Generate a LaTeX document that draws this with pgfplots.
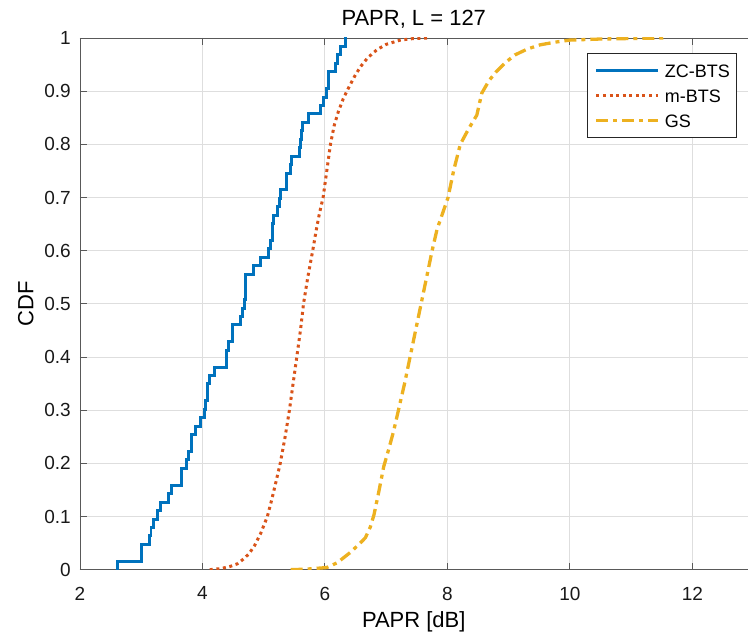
\documentclass[border=0pt]{standalone}
\usepackage{fontspec}
\setmainfont{Liberation Sans}
\usepackage{pgfplots}
\pgfplotsset{compat=1.18}
\definecolor{mblue}{rgb}{0,0.447,0.741}
\definecolor{morange}{rgb}{0.851,0.325,0.098}
\definecolor{myellow}{rgb}{0.929,0.694,0.125}
\begin{document}
\begin{tikzpicture}
\begin{axis}[
  scale only axis, width=668pt, height=532pt,
  at={(0,0)}, anchor=south west,
  xmin=2, xmax=12.9, ymin=0, ymax=1,
  axis x line*=box, axis y line*=left,
  axis line style={black!65, line width=0.9pt},
  xtick={2,4,6,8,10,12},
  ytick={0,0.1,0.2,0.3,0.4,0.5,0.6,0.7,0.8,0.9,1},
  yticklabels={0,0.1,0.2,0.3,0.4,0.5,0.6,0.7,0.8,0.9,1},
  tick align=inside, major tick length=7pt,
  tick style={black!65, line width=0.9pt},
  grid=major, grid style={black!13, line width=0.9pt},
  /pgf/number format/assume math mode=true,
  ticklabel style={font=\fontsize{19}{19}\selectfont, text=black!90},
  xticklabel style={anchor=north, inner sep=0pt, yshift=-17pt},
  yticklabel style={anchor=east, inner sep=0pt, xshift=-9pt},
  title={PAPR, L = 127},
  title style={at={(axis description cs:0.5,1.0113)}, anchor=base, inner sep=0pt, font=\fontsize{22}{22}\selectfont},
  xlabel={PAPR [dB]},
  xlabel style={at={(axis description cs:0.5,-0.109)}, anchor=base, inner sep=0pt, font=\fontsize{22}{22}\selectfont},
  ylabel={CDF},
  ylabel style={at={(axis description cs:-0.0699,0.5)}, anchor=base, rotate=0, inner sep=0pt, font=\fontsize{22}{22}\selectfont},
  legend style={at={(axis description cs:0.9846,0.9712)}, anchor=north east,
    draw=black!85, line width=0.8pt, fill=white,
    font=\fontsize{18}{18}\selectfont,
    inner xsep=7pt, inner ysep=10.5pt, row sep=12pt, column sep=5pt,
    nodes={inner sep=0pt, text height=13pt, text depth=0pt}},
  legend cell align=left,
  legend image code/.code={\draw[#1] (0pt,0pt) -- (62pt,0pt);},
]
\addplot[const plot, mblue, line width=3pt] coordinates {
(2.61,0) (2.61,0.0159) (3.01,0.0476) (3.13,0.0635) (3.16,0.0794) (3.20,0.0952)
(3.265,0.1111) (3.31,0.1270) (3.44,0.1429) (3.49,0.1587) (3.66,0.1905) (3.74,0.2063)
(3.77,0.2222) (3.82,0.2540) (3.89,0.2698) (3.97,0.2857) (4.03,0.3016) (4.05,0.3175)
(4.08,0.3492) (4.11,0.3651) (4.19,0.3810) (4.40,0.4127) (4.43,0.4286) (4.49,0.4603)
(4.62,0.4762) (4.65,0.4921) (4.68,0.5079) (4.70,0.5556) (4.83,0.5714) (4.95,0.5873)
(5.08,0.6032) (5.11,0.6190) (5.14,0.6349) (5.15,0.6508) (5.165,0.6667) (5.22,0.6825)
(5.25,0.6984) (5.27,0.7143) (5.38,0.7460) (5.44,0.7619) (5.46,0.7778) (5.58,0.7937)
(5.60,0.8095) (5.62,0.8254) (5.64,0.8413) (5.735,0.8571) (5.92,0.8730) (5.98,0.8889)
(6.03,0.9048) (6.06,0.9365) (6.18,0.9524) (6.20,0.9683) (6.26,0.9841) (6.34,1.0) (6.36,1.0)
};
\addlegendentry{ZC-BTS}
\addplot[morange, line width=3pt, dash pattern=on 3pt off 3.6pt] coordinates {
(4.12,0) (4.30,0.002) (4.45,0.006) (4.57,0.011) (4.67,0.02) (4.76,0.03) (4.85,0.045)
(4.95,0.068) (5.06,0.10) (5.13,0.131) (5.20,0.165) (5.27,0.20) (5.35,0.25) (5.42,0.30)
(5.48,0.35) (5.54,0.40) (5.60,0.45) (5.65,0.50) (5.72,0.55) (5.80,0.60) (5.86,0.64)
(5.91,0.67) (5.97,0.70) (6.03,0.75) (6.09,0.80) (6.15,0.835) (6.22,0.862) (6.30,0.886)
(6.38,0.905) (6.48,0.927) (6.58,0.946) (6.70,0.963) (6.85,0.978) (7.00,0.988)
(7.23,0.996) (7.45,0.999) (7.72,1.0)
};
\addlegendentry{m-BTS}
\addplot[myellow, line width=3.3pt, dash pattern=on 12pt off 5pt on 4pt off 5pt] coordinates {
(5.44,0) (5.70,0.001) (6.03,0.004) (6.20,0.013) (6.41,0.032) (6.55,0.047) (6.66,0.060)
(6.74,0.08) (6.80,0.103) (6.875,0.144) (6.96,0.194) (7.04,0.226) (7.12,0.26) (7.20,0.30)
(7.30,0.35) (7.39,0.40) (7.48,0.45) (7.57,0.50) (7.66,0.55) (7.75,0.60) (7.83,0.64)
(8.01,0.70) (8.10,0.75) (8.21,0.80) (8.35,0.83) (8.48,0.855) (8.56,0.896) (8.68,0.92)
(8.80,0.937) (8.95,0.954) (9.10,0.968) (9.30,0.979) (9.51,0.987) (9.75,0.992)
(10.0,0.996) (10.49,0.998) (11.0,0.999) (11.57,1.0)
};
\addlegendentry{GS}
\end{axis}
\path (current axis.south west) ++(-80pt,-62pt) rectangle ++(748pt,632pt);
\end{tikzpicture}
\end{document}
